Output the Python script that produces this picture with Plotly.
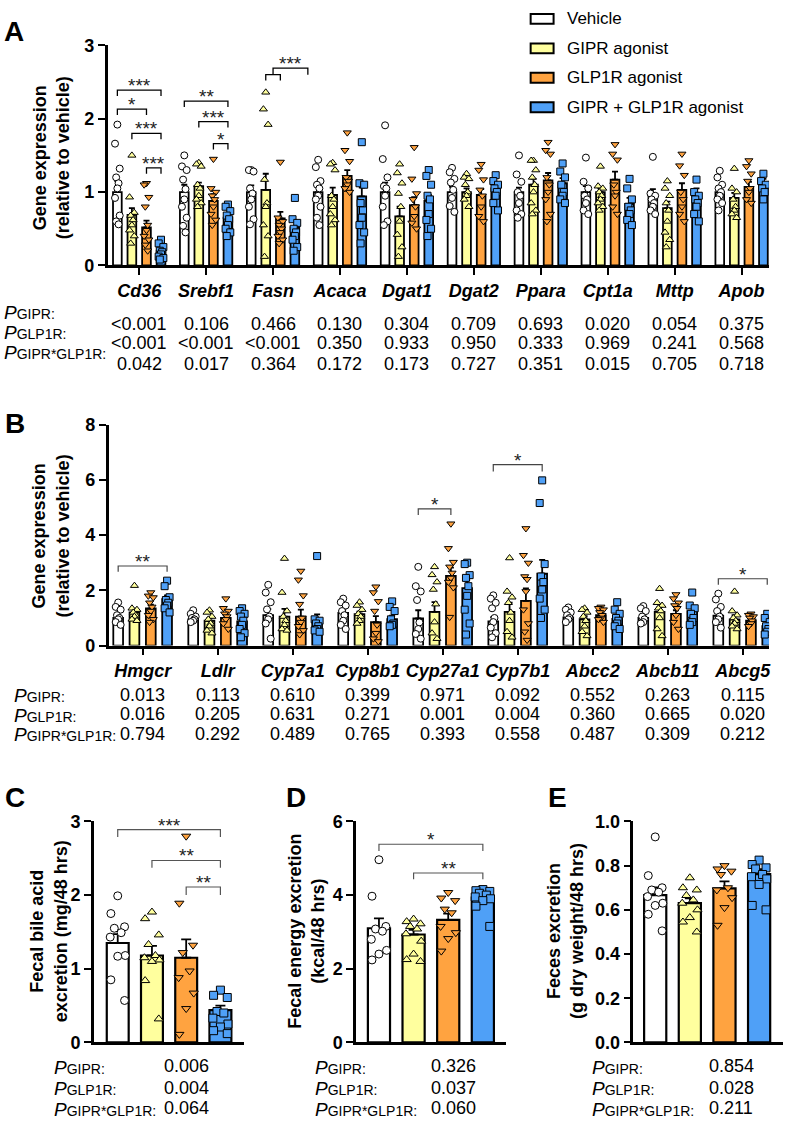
import plotly.graph_objects as go

W, H = 787, 1134
FONT = "Liberation Sans, Arial, sans-serif"

def pxx(x):
    return x / W

def pyy(y):
    return 1 - y / H

groups = ["Vehicle", "GIPR agonist", "GLP1R agonist", "GIPR + GLP1R agonist"]
bar_colors = ["#FFFFFF", "#FFFF9E", "#FFA340", "#4FA0F7"]
marker_symbols = ["circle", "triangle-up", "triangle-down", "square"]

# ---------------- Panel A data ----------------
A_genes = ["Cd36", "Srebf1", "Fasn", "Acaca", "Dgat1", "Dgat2", "Ppara", "Cpt1a", "Mttp", "Apob"]
A_mean_veh = [1.0, 1.0, 1.0, 1.0, 1.0, 1.0, 1.0, 1.0, 0.97, 1.0]
A_mean_gipr = [0.69, 1.08, 1.03, 0.96, 0.67, 1.0, 1.1, 1.0, 0.78, 0.92]
A_mean_glp1r = [0.52, 0.88, 0.64, 1.22, 0.82, 0.96, 1.16, 1.17, 1.03, 1.07]
A_mean_combo = [0.20, 0.65, 0.52, 0.94, 0.88, 1.05, 1.12, 0.84, 0.98, 1.12]
A_sem_veh = [0.15, 0.10, 0.09, 0.09, 0.13, 0.07, 0.06, 0.08, 0.07, 0.06]
A_sem_gipr = [0.09, 0.05, 0.22, 0.10, 0.13, 0.05, 0.08, 0.05, 0.09, 0.07]
A_sem_glp1r = [0.09, 0.09, 0.09, 0.08, 0.11, 0.08, 0.10, 0.11, 0.09, 0.07]
A_sem_combo = [0.03, 0.05, 0.08, 0.12, 0.08, 0.05, 0.07, 0.08, 0.07, 0.06]
A_pts_veh = [
    [1.92, 1.66, 1.32, 1.20, 1.12, 1.05, 0.92, 0.68, 0.60, 0.56],
    [1.50, 1.35, 1.30, 1.17, 1.04, 0.90, 0.80, 0.65, 0.54, 0.45],
    [1.30, 1.30, 1.28, 1.05, 0.98, 0.90, 0.80, 0.63, 0.56],
    [1.44, 1.34, 1.15, 1.10, 1.05, 0.95, 0.90, 0.80, 0.65, 0.55],
    [1.91, 1.45, 1.20, 1.08, 1.05, 0.95, 0.80, 0.60, 0.55],
    [1.33, 1.27, 1.18, 1.13, 1.03, 0.92, 0.81, 0.73],
    [1.50, 1.24, 1.14, 1.00, 0.95, 0.85, 0.75, 0.70, 0.65],
    [1.47, 1.14, 1.05, 0.95, 0.90, 0.85, 0.75, 0.70],
    [1.48, 0.98, 0.95, 0.90, 0.85, 0.80, 0.75, 0.70],
    [1.29, 1.20, 1.10, 1.05, 1.00, 0.95, 0.90, 0.85, 0.75],
]
A_pts_gipr = [
    [1.50, 0.93, 0.72, 0.68, 0.62, 0.55, 0.48, 0.40, 0.30],
    [1.40, 1.38, 1.35, 1.10, 1.05, 0.95, 0.90, 0.85, 0.80],
    [2.36, 2.13, 1.92, 1.17, 0.85, 0.80, 0.55, 0.40, 0.12],
    [1.40, 1.38, 1.30, 0.95, 0.90, 0.80, 0.70, 0.62, 0.55],
    [1.38, 1.26, 1.12, 0.98, 0.80, 0.60, 0.42, 0.25, 0.12],
    [1.25, 1.20, 1.18, 1.10, 1.00, 0.95, 0.90, 0.80],
    [1.43, 1.43, 1.30, 1.20, 1.10, 1.00, 0.85, 0.75, 0.70],
    [1.35, 1.08, 1.05, 1.00, 0.95, 0.90, 0.85, 0.80, 0.75],
    [1.15, 1.05, 0.95, 0.85, 0.75, 0.60, 0.45, 0.35, 0.25],
    [1.32, 1.05, 1.00, 0.90, 0.80, 0.75, 0.70, 0.65],
]
A_pts_glp1r = [
    [1.12, 1.10, 0.93, 0.80, 0.55, 0.48, 0.40, 0.35, 0.28, 0.20],
    [1.45, 1.05, 1.00, 0.95, 0.90, 0.80, 0.70, 0.62, 0.55],
    [1.41, 0.65, 0.60, 0.55, 0.50, 0.45, 0.40, 0.35, 0.30],
    [1.81, 1.57, 1.42, 1.20, 1.15, 1.10, 1.05, 1.00],
    [1.61, 1.18, 0.98, 0.90, 0.80, 0.67, 0.58, 0.50],
    [1.38, 1.30, 1.17, 1.03, 0.95, 0.80, 0.67, 0.60],
    [1.68, 1.57, 1.52, 1.20, 1.10, 1.00, 0.90, 0.70, 0.60],
    [1.65, 1.52, 1.44, 1.10, 1.00, 0.95, 0.80, 0.70],
    [1.52, 1.36, 1.23, 1.00, 0.90, 0.80, 0.70, 0.60],
    [1.43, 1.35, 1.25, 1.15, 1.05, 1.00, 0.90, 0.85],
]
A_pts_combo = [
    [0.35, 0.30, 0.25, 0.20, 0.18, 0.15, 0.12, 0.10, 0.08],
    [0.83, 0.80, 0.74, 0.68, 0.63, 0.55, 0.50, 0.45, 0.40],
    [0.92, 0.63, 0.58, 0.50, 0.45, 0.40, 0.35, 0.25, 0.20],
    [1.68, 1.12, 1.10, 0.85, 0.75, 0.65, 0.55, 0.45, 0.30],
    [1.30, 1.22, 1.10, 0.95, 0.90, 0.70, 0.62, 0.50, 0.40],
    [1.23, 1.15, 1.10, 1.05, 1.00, 0.95, 0.85, 0.75],
    [1.39, 1.28, 1.20, 1.10, 1.00, 0.95, 0.90, 0.85],
    [1.18, 1.05, 0.90, 0.80, 0.75, 0.70, 0.62, 0.55],
    [1.17, 1.00, 0.95, 0.90, 0.85, 0.80, 0.70, 0.60],
    [1.25, 1.15, 1.10, 1.05, 1.00, 0.90],
]
A_p_gipr = ["<0.001", "0.106", "0.466", "0.130", "0.304", "0.709", "0.693", "0.020", "0.054", "0.375"]
A_p_glp1r = ["<0.001", "<0.001", "<0.001", "0.350", "0.933", "0.950", "0.333", "0.969", "0.241", "0.568"]
A_p_int = ["0.042", "0.017", "0.364", "0.172", "0.173", "0.727", "0.351", "0.015", "0.705", "0.718"]
# brackets: (gene, left group, right group, y line, y leg end, label)
A_brackets = [
    (0, 0, 3, 2.39, 2.31, "***"),
    (0, 0, 2, 2.13, 2.05, "*"),
    (0, 1, 3, 1.80, 1.72, "***"),
    (0, 2, 3, 1.33, 1.25, "***"),
    (1, 0, 3, 2.24, 2.16, "**"),
    (1, 1, 3, 1.96, 1.88, "***"),
    (1, 2, 3, 1.66, 1.58, "*"),
    (2, 1, 2, 2.60, 2.52, ""),
    (2, 1.5, 4.0, 2.69, 2.60, "***"),
]

# ---------------- Panel B data ----------------
B_genes = ["Hmgcr", "Ldlr", "Cyp7a1", "Cyp8b1", "Cyp27a1", "Cyp7b1", "Abcc2", "Abcb11", "Abcg5"]
B_mean_veh = [1.0, 0.95, 1.10, 1.18, 0.98, 0.88, 1.02, 1.0, 1.08]
B_mean_gipr = [1.2, 0.90, 1.05, 1.14, 1.22, 1.22, 0.95, 1.22, 0.95]
B_mean_glp1r = [1.35, 1.0, 1.05, 0.85, 2.52, 1.62, 1.10, 1.15, 0.90]
B_mean_combo = [1.68, 0.88, 0.85, 0.96, 2.08, 2.60, 0.97, 1.25, 0.70]
B_sem_veh = [0.09, 0.06, 0.22, 0.13, 0.30, 0.15, 0.07, 0.08, 0.13]
B_sem_gipr = [0.14, 0.10, 0.28, 0.09, 0.35, 0.33, 0.12, 0.18, 0.15]
B_sem_glp1r = [0.13, 0.11, 0.25, 0.22, 0.30, 0.45, 0.07, 0.13, 0.07]
B_sem_combo = [0.14, 0.11, 0.28, 0.12, 0.30, 0.50, 0.11, 0.13, 0.08]
B_pts_veh = [
    [1.56, 1.40, 1.30, 1.10, 1.00, 0.95, 0.85, 0.75],
    [1.28, 1.15, 1.05, 1.00, 0.95, 0.90, 0.85],
    [2.20, 1.92, 1.57, 1.31, 1.05, 0.95, 0.80, 0.25],
    [1.70, 1.57, 1.45, 1.25, 1.10, 0.90, 0.75, 0.60],
    [2.85, 2.15, 1.96, 1.65, 0.84, 0.60, 0.42, 0.25],
    [1.82, 1.70, 1.55, 1.35, 1.00, 0.85, 0.65, 0.45, 0.30],
    [1.38, 1.30, 1.20, 1.10, 1.00, 0.95, 0.85],
    [1.43, 1.35, 1.25, 1.05, 0.95, 0.85, 0.80],
    [1.88, 1.67, 1.40, 1.25, 1.05, 0.95, 0.85, 0.65],
]
B_pts_gipr = [
    [2.17, 1.35, 1.30, 1.20, 1.10, 1.05, 0.95, 0.90],
    [1.28, 1.20, 1.05, 0.95, 0.80, 0.70, 0.55, 0.45],
    [3.15, 1.92, 1.25, 1.05, 0.90, 0.75, 0.60, 0.55],
    [1.57, 1.45, 1.30, 1.15, 1.05, 0.90, 0.80],
    [2.85, 2.56, 2.30, 2.03, 1.50, 0.85, 0.45, 0.25],
    [3.17, 1.96, 1.75, 1.55, 1.20, 0.90, 0.50, 0.30],
    [1.35, 1.30, 1.20, 1.05, 0.90, 0.70, 0.50, 0.35],
    [2.06, 1.55, 1.45, 1.35, 1.25, 1.00, 0.60, 0.35],
    [1.96, 1.25, 1.10, 1.00, 0.90, 0.80, 0.70, 0.60],
]
B_pts_glp1r = [
    [1.92, 1.80, 1.74, 1.55, 1.40, 1.25, 1.10, 0.95, 0.85],
    [1.70, 1.35, 1.25, 1.15, 1.05, 0.95, 0.80, 0.60],
    [2.70, 2.38, 1.81, 1.50, 1.00, 0.85, 0.70, 0.55, 0.40],
    [2.13, 1.92, 1.60, 1.25, 0.75, 0.45, 0.25, 0.15],
    [4.41, 3.52, 3.02, 2.85, 2.63, 2.45, 2.30, 2.10, 1.03],
    [4.24, 3.27, 2.99, 2.50, 2.40, 1.96, 1.30, 0.80, 0.50, 0.20],
    [1.40, 1.35, 1.30, 1.20, 1.10, 1.00, 0.95, 0.85],
    [1.85, 1.70, 1.55, 1.45, 1.35, 1.10, 0.85, 0.60],
    [1.15, 1.10, 1.05, 1.00, 0.90, 0.80, 0.70],
]
B_pts_combo = [
    [2.35, 2.15, 1.75, 1.65, 1.55, 1.45, 1.35, 1.20],
    [1.35, 1.25, 1.15, 1.05, 0.90, 0.75, 0.60, 0.45, 0.30],
    [3.24, 0.95, 0.90, 0.80, 0.70, 0.60, 0.55, 0.50],
    [1.60, 1.40, 1.25, 0.95, 0.80, 0.75, 0.70],
    [3.00, 2.95, 2.55, 2.45, 2.15, 1.80, 1.30, 0.80, 0.40],
    [5.98, 5.16, 2.95, 2.50, 2.30, 2.03, 1.70, 1.30, 1.00],
    [1.57, 1.30, 1.15, 1.00, 0.90, 0.80, 0.70, 0.60],
    [1.92, 1.45, 1.35, 1.15, 1.00, 0.85, 0.75],
    [1.15, 1.00, 0.85, 0.70, 0.60, 0.50, 0.40],
]
B_p_gipr = ["0.013", "0.113", "0.610", "0.399", "0.971", "0.092", "0.552", "0.263", "0.115"]
B_p_glp1r = ["0.016", "0.205", "0.631", "0.271", "0.001", "0.004", "0.360", "0.665", "0.020"]
B_p_int = ["0.794", "0.292", "0.489", "0.765", "0.393", "0.558", "0.487", "0.309", "0.212"]
B_brackets = [
    (0, 0, 3, 2.88, 2.67, "**"),
    (4, 0, 2, 4.95, 4.73, "*"),
    (5, 0, 3, 6.55, 6.30, "*"),
    (8, 0, 3, 2.42, 2.20, "*"),
]

# ---------------- Panels C, D, E data ----------------
C_means = [1.35, 1.18, 1.15, 0.44]
C_sems = [0.12, 0.13, 0.25, 0.06]
C_pts = [
    [1.99, 1.75, 1.57, 1.55, 1.49, 1.43, 1.18, 1.17, 0.85, 0.57],
    [1.77, 1.68, 1.46, 1.33, 1.18, 1.15, 1.12, 1.10, 0.84, 0.32],
    [2.80, 1.89, 1.32, 1.22, 0.97, 0.88, 0.67, 0.46, 0.11],
    [0.71, 0.64, 0.61, 0.42, 0.40, 0.33, 0.25, 0.21, 0.16, 0.12],
]
C_p = ["0.006", "0.004", "0.064"]
C_brackets = [(0, 3, 2.89, 2.79, "***"), (1, 3, 2.47, 2.37, "**"), (2, 3, 2.11, 2.00, "**")]

D_means = [3.10, 2.93, 3.33, 3.93]
D_sems = [0.27, 0.13, 0.17, 0.11]
D_pts = [
    [4.96, 3.97, 3.15, 3.08, 3.02, 2.80, 2.50, 2.40, 2.24],
    [3.35, 3.28, 3.22, 3.15, 3.08, 2.95, 2.75, 2.40, 2.25, 2.20],
    [4.07, 3.92, 3.85, 3.62, 3.52, 3.15, 2.98, 2.82, 2.48],
    [4.15, 4.12, 4.10, 4.05, 4.00, 3.95, 3.90, 3.85, 3.70, 3.15],
]
D_p = ["0.326", "0.037", "0.060"]
D_brackets = [(0, 3, 5.38, 5.20, "*"), (1, 3, 4.60, 4.43, "**")]

E_means = [0.667, 0.630, 0.697, 0.762]
E_sems = [0.035, 0.022, 0.032, 0.022]
E_pts = [
    [0.93, 0.755, 0.70, 0.69, 0.68, 0.66, 0.63, 0.62, 0.58, 0.505],
    [0.745, 0.70, 0.69, 0.665, 0.645, 0.63, 0.60, 0.565, 0.545, 0.50],
    [0.80, 0.785, 0.775, 0.76, 0.70, 0.69, 0.655, 0.61, 0.53],
    [0.825, 0.805, 0.79, 0.785, 0.76, 0.75, 0.74, 0.715, 0.62, 0.60],
]
E_p = ["0.854", "0.028", "0.211"]

p_subs = ["GIPR", "GLP1R", "GIPR*GLP1R"]
p_labels = ["<i>P</i><span style='font-size:14px'>%s:</span>" % s for s in p_subs]

fig = go.Figure()


def esc(s):
    return s.replace("<", "&lt;")


def add_bars_points(xa, ya, centers, means, sems, pts, offs, bw, msize, jit, bar_lw, err_w):
    for g in range(4):
        xs = [c + offs[g] for c in centers]
        fig.add_trace(go.Bar(
            x=xs, y=means[g], width=bw, xaxis=xa, yaxis=ya,
            marker=dict(color=bar_colors[g], line=dict(color="black", width=bar_lw)),
            error_y=dict(type="data", array=sems[g], arrayminus=[0] * len(xs),
                         symmetric=False, color="black", thickness=1.8, width=err_w),
            showlegend=False, hoverinfo="skip"))
    for g in range(4):
        xs, ys = [], []
        for i, c in enumerate(centers):
            for k, v in enumerate(pts[g][i]):
                xs.append(c + offs[g] + jit[k % len(jit)])
                ys.append(v)
        fig.add_trace(go.Scatter(
            x=xs, y=ys, mode="markers", xaxis=xa, yaxis=ya,
            marker=dict(symbol=marker_symbols[g], size=msize, color=bar_colors[g],
                        line=dict(color="black", width=1)),
            showlegend=False, hoverinfo="skip"))


def add_brackets(xa, ya, specs, color, lw, star_size):
    xs, ys = [], []
    for (x1, x2, yt, yl, lab) in specs:
        xs += [x1, x1, x2, x2, None]
        ys += [yl, yt, yt, yl, None]
        if lab:
            fig.add_annotation(x=(x1 + x2) / 2, y=yt, xref=xa, yref=ya,
                               text=lab, showarrow=False, yanchor="bottom", yshift=-8,
                               font=dict(family=FONT, size=star_size, color="#222"))
    fig.add_trace(go.Scatter(x=xs, y=ys, mode="lines", xaxis=xa, yaxis=ya,
                             line=dict(color=color, width=lw), showlegend=False,
                             hoverinfo="skip"))


gene_offs = [-0.326, -0.109, 0.109, 0.326]

# Panel A
A_centers = list(range(len(A_genes)))
add_bars_points("x", "y", A_centers,
                [A_mean_veh, A_mean_gipr, A_mean_glp1r, A_mean_combo],
                [A_sem_veh, A_sem_gipr, A_sem_glp1r, A_sem_combo],
                [A_pts_veh, A_pts_gipr, A_pts_glp1r, A_pts_combo],
                gene_offs, 0.13, 7, [0, -0.035, 0.035, -0.018, 0.018], 1.8, 3)


def gxA(gi, gg):
    if gg == int(gg) and gg <= 3:
        return gi + gene_offs[int(gg)]
    if gg == 1.5:
        return gi + (gene_offs[1] + gene_offs[2]) / 2
    return gi + 0.52


specA = [(gxA(gi, g1), gxA(gi, g2), yt, yl, lab) for (gi, g1, g2, yt, yl, lab) in A_brackets]
add_brackets("x", "y", specA, "black", 1.3, 19)

# Panel B
B_centers = list(range(len(B_genes)))
add_bars_points("x2", "y2", B_centers,
                [B_mean_veh, B_mean_gipr, B_mean_glp1r, B_mean_combo],
                [B_sem_veh, B_sem_gipr, B_sem_glp1r, B_sem_combo],
                [B_pts_veh, B_pts_gipr, B_pts_glp1r, B_pts_combo],
                gene_offs, 0.13, 7, [0, -0.033, 0.033, -0.016, 0.016], 1.8, 3)
specB = [(gi + gene_offs[g1], gi + gene_offs[g2], yt, yl, lab) for (gi, g1, g2, yt, yl, lab) in B_brackets]
add_brackets("x2", "y2", specB, "#444", 1.2, 19)

# Panels C, D, E  (one category, 4 groups at positions 0..3)
small_jit = [0.0, -0.2, 0.2, -0.1, 0.1, -0.22, 0.22]
for (xa, ya, means, sems, pts) in [("x3", "y3", C_means, C_sems, C_pts),
                                   ("x4", "y4", D_means, D_sems, D_pts),
                                   ("x5", "y5", E_means, E_sems, E_pts)]:
    add_bars_points(xa, ya, [0], [[m] for m in means], [[s] for s in sems],
                    [[p] for p in pts], [0, 1, 2, 3], 0.64, 8, small_jit, 2.2, 5)

add_brackets("x3", "y3", list(C_brackets), "#555", 1.2, 19)
add_brackets("x4", "y4", list(D_brackets), "#555", 1.2, 19)

axis_common = dict(showgrid=False, zeroline=False, showline=True, linecolor="black",
                   linewidth=2.5, ticks="outside", tickcolor="black", tickwidth=2.2, ticklen=7)
noticks = {**axis_common, "ticks": ""}
ytickfont = dict(family=FONT, size=18, color="black", weight="bold")
genefont = dict(family=FONT, size=18, color="black", weight="bold", style="italic")

layout = dict(
    width=W, height=H, margin=dict(l=0, r=0, t=0, b=0),
    paper_bgcolor="white", plot_bgcolor="white", showlegend=False,
    xaxis=dict(domain=[pxx(108), pxx(771)], range=[-0.47, 9.41], anchor="y",
               tickvals=A_centers, ticktext=A_genes, tickfont=genefont, **axis_common),
    yaxis=dict(domain=[pyy(260), pyy(36)], range=[0, 3], anchor="x",
               tickvals=[0, 1, 2, 3], tickfont=ytickfont, **axis_common),
    xaxis2=dict(domain=[pxx(109), pxx(771)], range=[-0.452, 8.35], anchor="y2",
                tickvals=B_centers, ticktext=B_genes, tickfont=genefont, **axis_common),
    yaxis2=dict(domain=[pyy(647), pyy(422)], range=[0, 8], anchor="x2",
                tickvals=[0, 2, 4, 6, 8], tickfont=ytickfont, **axis_common),
    xaxis3=dict(domain=[pxx(94), pxx(245)], range=[-0.70, 3.70], anchor="y3",
                showticklabels=False, **noticks),
    yaxis3=dict(domain=[pyy(1051), pyy(826)], range=[0, 3], anchor="x3",
                tickvals=[0, 1, 2, 3], tickfont=ytickfont, **axis_common),
    xaxis4=dict(domain=[pxx(357), pxx(507)], range=[-0.66, 3.66], anchor="y4",
                showticklabels=False, **noticks),
    yaxis4=dict(domain=[pyy(1051), pyy(826)], range=[0, 6], anchor="x4",
                tickvals=[0, 2, 4, 6], tickfont=ytickfont, **axis_common),
    xaxis5=dict(domain=[pxx(635), pxx(785)], range=[-0.63, 3.69], anchor="y5",
                showticklabels=False, **noticks),
    yaxis5=dict(domain=[pyy(1051), pyy(826)], range=[0, 1.0], anchor="x5",
                tickvals=[0, 0.2, 0.4, 0.6, 0.8, 1.0], tickformat=".1f",
                tickfont=ytickfont, **axis_common),
)
fig.update_layout(**layout)


def ann(x, y, text, size, xanchor="center", yanchor="middle", angle=0, xref="paper"):
    fig.add_annotation(x=x, y=y, xref=xref, yref="paper", text=text, showarrow=False,
                       xanchor=xanchor, yanchor=yanchor, textangle=angle,
                       font=dict(family=FONT, size=size, color="black"))


# Panel letters
for (lx, ly, lt) in [(14, 22, "A"), (15, 421, "B"), (15, 802, "C"), (297, 802, "D"), (559, 802, "E")]:
    ann(pxx(lx), pyy(ly), "<b>%s</b>" % lt, 28)

# Y-axis titles
ann(pxx(51), pyy(150), "<b>Gene expression</b><br><b>(relative to vehicle)</b>", 18, angle=-90)
ann(pxx(51), pyy(535), "<b>Gene expression</b><br><b>(relative to vehicle)</b>", 18, angle=-90)
ann(pxx(49), pyy(938), "<b>Fecal bile acid</b><br><b>excretion (mg/48 hrs)</b>", 18, angle=-90)
ann(pxx(307), pyy(938), "<b>Fecal energy excretion</b><br><b>(kcal/48 hrs)</b>", 18, angle=-90)
ann(pxx(567), pyy(938), "<b>Feces excretion</b><br><b>(g dry weight/48 hrs)</b>", 18, angle=-90)

# P-value tables
A_rows = [A_p_gipr, A_p_glp1r, A_p_int]
A_row_y = [307, 327, 348]
for r in range(3):
    ann(pxx(2), pyy(A_row_y[r] + 1), p_labels[r], 19, xanchor="left")
    for i, v in enumerate(A_rows[r]):
        fig.add_annotation(x=A_centers[i], y=pyy(A_row_y[r]), xref="x", yref="paper",
                           text=esc(v), showarrow=False,
                           font=dict(family=FONT, size=18, color="black"))
B_rows = [B_p_gipr, B_p_glp1r, B_p_int]
B_row_y = [697, 717, 737]
for r in range(3):
    ann(pxx(12), pyy(B_row_y[r] + 1), p_labels[r], 19, xanchor="left")
    for i, v in enumerate(B_rows[r]):
        fig.add_annotation(x=B_centers[i], y=pyy(B_row_y[r]), xref="x2", yref="paper",
                           text=esc(v), showarrow=False,
                           font=dict(family=FONT, size=18, color="black"))
small_row_y = [1075, 1097, 1118]
for (lx, vx, vals) in [(52, 187, C_p), (314, 455, D_p), (592, 733, E_p)]:
    for r in range(3):
        ann(pxx(lx), pyy(small_row_y[r] + 1), p_labels[r], 19, xanchor="left")
        ann(pxx(vx), pyy(small_row_y[r]), vals[r], 18)

# Legend
for i, gname in enumerate(groups):
    yc = 9 + 30 * i
    fig.add_shape(type="rect", xref="paper", yref="paper",
                  x0=pxx(532), x1=pxx(555), y0=pyy(yc + 5), y1=pyy(yc - 5),
                  fillcolor=bar_colors[i], line=dict(color="black", width=2))
    ann(pxx(566), pyy(yc), gname, 17, xanchor="left")

fig.write_html("out.html", config={"displayModeBar": False},
               post_script="document.body.style.margin='0px';")
